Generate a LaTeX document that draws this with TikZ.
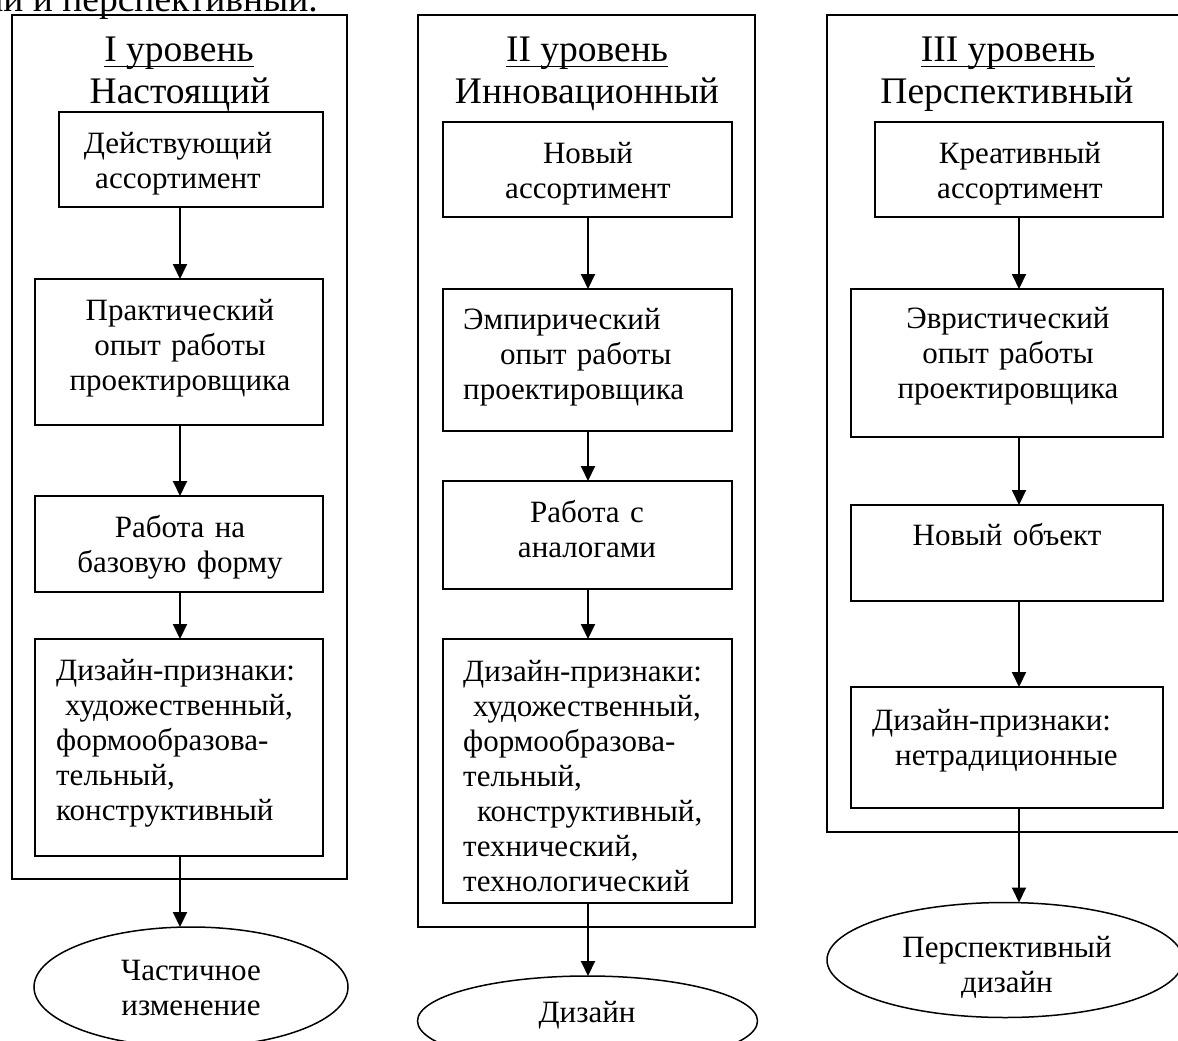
\documentclass[tikz,border=0pt]{standalone}
\usepackage{fontspec}
\setmainfont{Liberation Serif}
\usetikzlibrary{arrows.meta,shapes.geometric,fit}
\begin{document}
\begin{tikzpicture}[x=1pt,y=-1pt,
  frame/.style={draw,line width=1.5pt,inner sep=0pt,outer sep=0pt},
  stepbox/.style={draw,line width=1.5pt,inner sep=0pt,outer sep=0pt},
  oval/.style={draw,ellipse,line width=1.5pt,inner sep=0pt,outer sep=0pt},
  ttl/.style={font=\fontsize{37.5}{41}\selectfont,inner sep=0pt,anchor=base},
  txtc/.style={font=\fontsize{31}{35}\selectfont,inner sep=0pt,text width=320pt,align=center,anchor=base},
  txtl/.style={font=\fontsize{31}{35}\selectfont,inner sep=0pt,text width=320pt,align=left,anchor=base west},
  arr/.style={line width=2pt,-{Triangle[length=15pt,width=14pt]}},
  uline/.style={line width=1.6pt}]
\useasboundingbox (0,0) rectangle (1178,1041);

% cut-off text line at the top
\node[font=\fontsize{37.5}{41}\selectfont,inner sep=0pt,anchor=base east] (toptext) at (318,12) {ли и перспективный.};

% outer frames
\node[frame,fit={(12,15) (347,879)}] (o1) {};
\node[frame,fit={(418,15) (755,927)}] (o2) {};
\node[frame,fit={(827,15) (1190,832)}] (o3) {};

% titles
\node[ttl] (t1a) at (179,62) {I уровень};
\node[ttl] (t1b) at (180,103) {Настоящий};
\node[ttl] (t2a) at (587,62) {II уровень};
\node[ttl] (t2b) at (587,103) {Инновационный};
\node[ttl] (t3a) at (1008,62) {III уровень};
\node[ttl] (t3b) at (1007,103) {Перспективный};
\foreach \t in {t1a,t2a,t3a}
  \draw[uline] ([yshift=-4.5pt]\t.base west) -- ([yshift=-4.5pt]\t.base east);

% column 1 boxes
\node[stepbox,fit={(59,112) (323,207)}] (b11) {};
\node[stepbox,fit={(35,279) (323,425)}] (b12) {};
\node[stepbox,fit={(35,496) (323,592)}] (b13) {};
\node[stepbox,fit={(35,639) (323,856)}] (b14) {};
% column 2 boxes
\node[stepbox,fit={(443,122) (732,217)}] (b21) {};
\node[stepbox,fit={(443,289) (732,431)}] (b22) {};
\node[stepbox,fit={(443,481) (732,589)}] (b23) {};
\node[stepbox,fit={(443,639) (732,903)}] (b24) {};
% column 3 boxes
\node[stepbox,fit={(875,122) (1163,217)}] (b31) {};
\node[stepbox,fit={(851,289) (1163,437)}] (b32) {};
\node[stepbox,fit={(851,505) (1163,601)}] (b33) {};
\node[stepbox,fit={(851,687) (1163,808)}] (b34) {};

% ellipses
\node[oval,minimum width=314pt,minimum height=120pt] (e1) at (191,987) {};
\node[oval,minimum width=340pt,minimum height=90pt] (e2) at (587.5,1021) {};
\node[oval,minimum width=356pt,minimum height=115pt] (e3) at (1005,960) {};

% texts column 1
\node[txtc] (x11) at (178,153) {Действующий\\ассортимент};
\node[txtc] (x12) at (180,320) {Практический\\опыт работы\\проектировщика};
\node[txtc] (x13) at (180,537) {Работа на\\базовую форму};
\node[txtl] (x14) at (56,680) {Дизайн-признаки:\\\hspace*{9pt}художественный,\\формообразова-\\тельный,\\конструктивный};
% texts column 2
\node[txtc] (x21) at (588,163) {Новый\\ассортимент};
\node[txtl] (x22) at (463,329) {Эмпирический\\\hspace*{37pt}опыт работы\\проектировщика};
\node[txtc] (x23) at (587,522) {Работа с\\аналогами};
\node[txtl] (x24) at (463,681) {Дизайн-признаки:\\\hspace*{10pt}художественный,\\формообразова-\\тельный,\\\hspace*{14pt}конструктивный,\\технический,\\технологический};
% texts column 3
\node[txtc] (x31) at (1020,163) {Креативный\\ассортимент};
\node[txtc] (x32) at (1008,328) {Эвристический\\опыт работы\\проектировщика};
\node[txtc] (x33) at (1007,545) {Новый объект};
\node[txtl] (x34) at (872,730) {Дизайн-признаки:\\\hspace*{23pt}нетрадиционные};
% ellipse texts
\node[txtc] (y1) at (191,980) {Частичное\\изменение};
\node[txtc] (y2) at (587,1022) {Дизайн};
\node[txtc] (y3) at (1007,957) {Перспективный\\дизайн};

% connectors
\coordinate (c1) at (180,0);
\coordinate (c2) at (588,0);
\coordinate (c3) at (1019,0);
\draw[arr] (b11.south -| c1) -- (b12.north -| c1);
\draw[arr] (b12.south -| c1) -- (b13.north -| c1);
\draw[arr] (b13.south -| c1) -- (b14.north -| c1);
\draw[arr] (b14.south -| c1) -- (e1.north -| c1);
\draw[arr] (b21.south -| c2) -- (b22.north -| c2);
\draw[arr] (b22.south -| c2) -- (b23.north -| c2);
\draw[arr] (b23.south -| c2) -- (b24.north -| c2);
\draw[arr] (b24.south -| c2) -- (e2.north -| c2);
\draw[arr] (b31.south -| c3) -- (b32.north -| c3);
\draw[arr] (b32.south -| c3) -- (b33.north -| c3);
\draw[arr] (b33.south -| c3) -- (b34.north -| c3);
\draw[arr] (b34.south -| c3) -- (e3.north -| c3);
\end{tikzpicture}
\end{document}
